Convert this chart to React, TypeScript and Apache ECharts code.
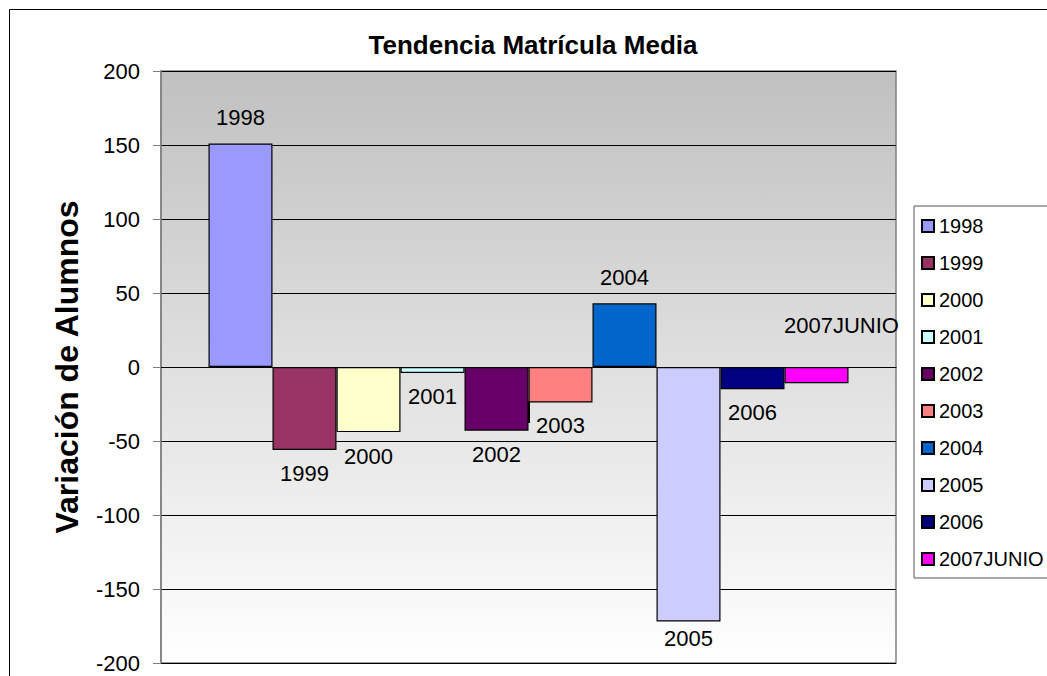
import React, { useEffect, useRef } from "react";
import * as echarts from "echarts";

const categories = ["Matrícula"];
const seriesNames = ["1998", "1999", "2000", "2001", "2002", "2003", "2004", "2005", "2006", "2007JUNIO"];
const seriesValues = [151, -56, -44, -4, -43, -24, 43, -172, -15, -11];
const yTicks = { min: -200, max: 200, interval: 50 };

const barColors = ["#9999FF", "#993366", "#FFFFCC", "#CCFFFF", "#660066", "#FF8080", "#0066CC", "#CCCCFF", "#000080", "#FF00FF"];
const labelDistance = [15, 13, 13, 13, 13, 12, 15, 6, 12, 31];

const FONT = "'Liberation Sans', Arial, sans-serif";

export default function App() {
  const ref = useRef<HTMLDivElement>(null);
  useEffect(() => {
    if (!ref.current) return;
    const chart = echarts.init(ref.current, null, { renderer: "svg" });
    const series = seriesNames.map((name, i) => {
      const v = seriesValues[i];
      const special = name === "2007JUNIO";
      return {
        name,
        type: "bar",
        barWidth: 64,
        barGap: "0%",
        itemStyle: { color: barColors[i], borderColor: "#000", borderWidth: 1.2 },
        label: {
          show: true,
          position: special ? "top" : v >= 0 ? "top" : "bottom",
          distance: labelDistance[i],
          offset: special ? [25, 0] : [0, 0],
          formatter: name,
          color: "#000",
          fontSize: 22,
          fontFamily: FONT,
        },
        data: [v],
      };
    });
    chart.setOption({
      animation: false,
      backgroundColor: "#fff",
      textStyle: { fontFamily: FONT },
      grid: {
        left: 161,
        right: 151,
        top: 71,
        bottom: 13,
        show: true,
        borderColor: "#808080",
        borderWidth: 1.5,
        backgroundColor: new echarts.graphic.LinearGradient(0, 0, 0, 1, [
          { offset: 0, color: "#c0c0c0" },
          { offset: 1, color: "#ffffff" },
        ]),
      },
      legend: {
        orient: "vertical",
        left: 914,
        top: 206,
        padding: [10, 30, 9, 7],
        itemWidth: 12,
        itemHeight: 12,
        itemGap: 17,
        icon: "rect",
        borderColor: "#555",
        borderWidth: 1,
        textStyle: { fontSize: 20, lineHeight: 20, color: "#000", fontFamily: FONT },
        data: seriesNames,
      },
      xAxis: {
        type: "category",
        data: categories,
        axisLine: { onZero: true, lineStyle: { color: "#000", width: 1 } },
        axisTick: { show: false },
        axisLabel: { show: false },
        splitLine: { show: false },
      },
      yAxis: {
        type: "value",
        min: yTicks.min,
        max: yTicks.max,
        interval: yTicks.interval,
        name: "Variación de Alumnos",
        nameLocation: "middle",
        nameRotate: 90,
        nameGap: 78,
        nameTextStyle: { fontSize: 32, fontWeight: "bold", color: "#000", fontFamily: FONT },
        axisLine: { show: true, lineStyle: { color: "#808080", width: 1.5 } },
        axisTick: { show: true, inside: false, length: 8, lineStyle: { color: "#808080" } },
        axisLabel: { margin: 21, fontSize: 22, color: "#000", fontFamily: FONT },
        splitLine: { show: true, lineStyle: { color: "#000", width: 1 } },
      },
      graphic: [
        {
          type: "rect",
          shape: { x: 9.5, y: 9.5, width: 1100, height: 700 },
          style: { fill: "none", stroke: "#000", lineWidth: 1 },
          silent: true,
        },
        {
          type: "text",
          x: 533,
          y: 45,
          style: {
            text: "Tendencia Matrícula Media",
            fontSize: 26,
            fontWeight: "bold",
            fontFamily: FONT,
            fill: "#000",
            align: "center",
            verticalAlign: "middle",
          },
        },
        {
          type: "polyline",
          shape: { points: [[525, 405], [529, 402], [529, 423]] },
          style: { stroke: "#000", lineWidth: 2, fill: "none" },
          silent: true,
        },
      ],
      series,
    });
    return () => chart.dispose();
  }, []);
  return (
    <div
      ref={ref}
      style={{ position: "absolute", left: 0, top: 0, width: 1047, height: 676 }}
    />
  );
}
